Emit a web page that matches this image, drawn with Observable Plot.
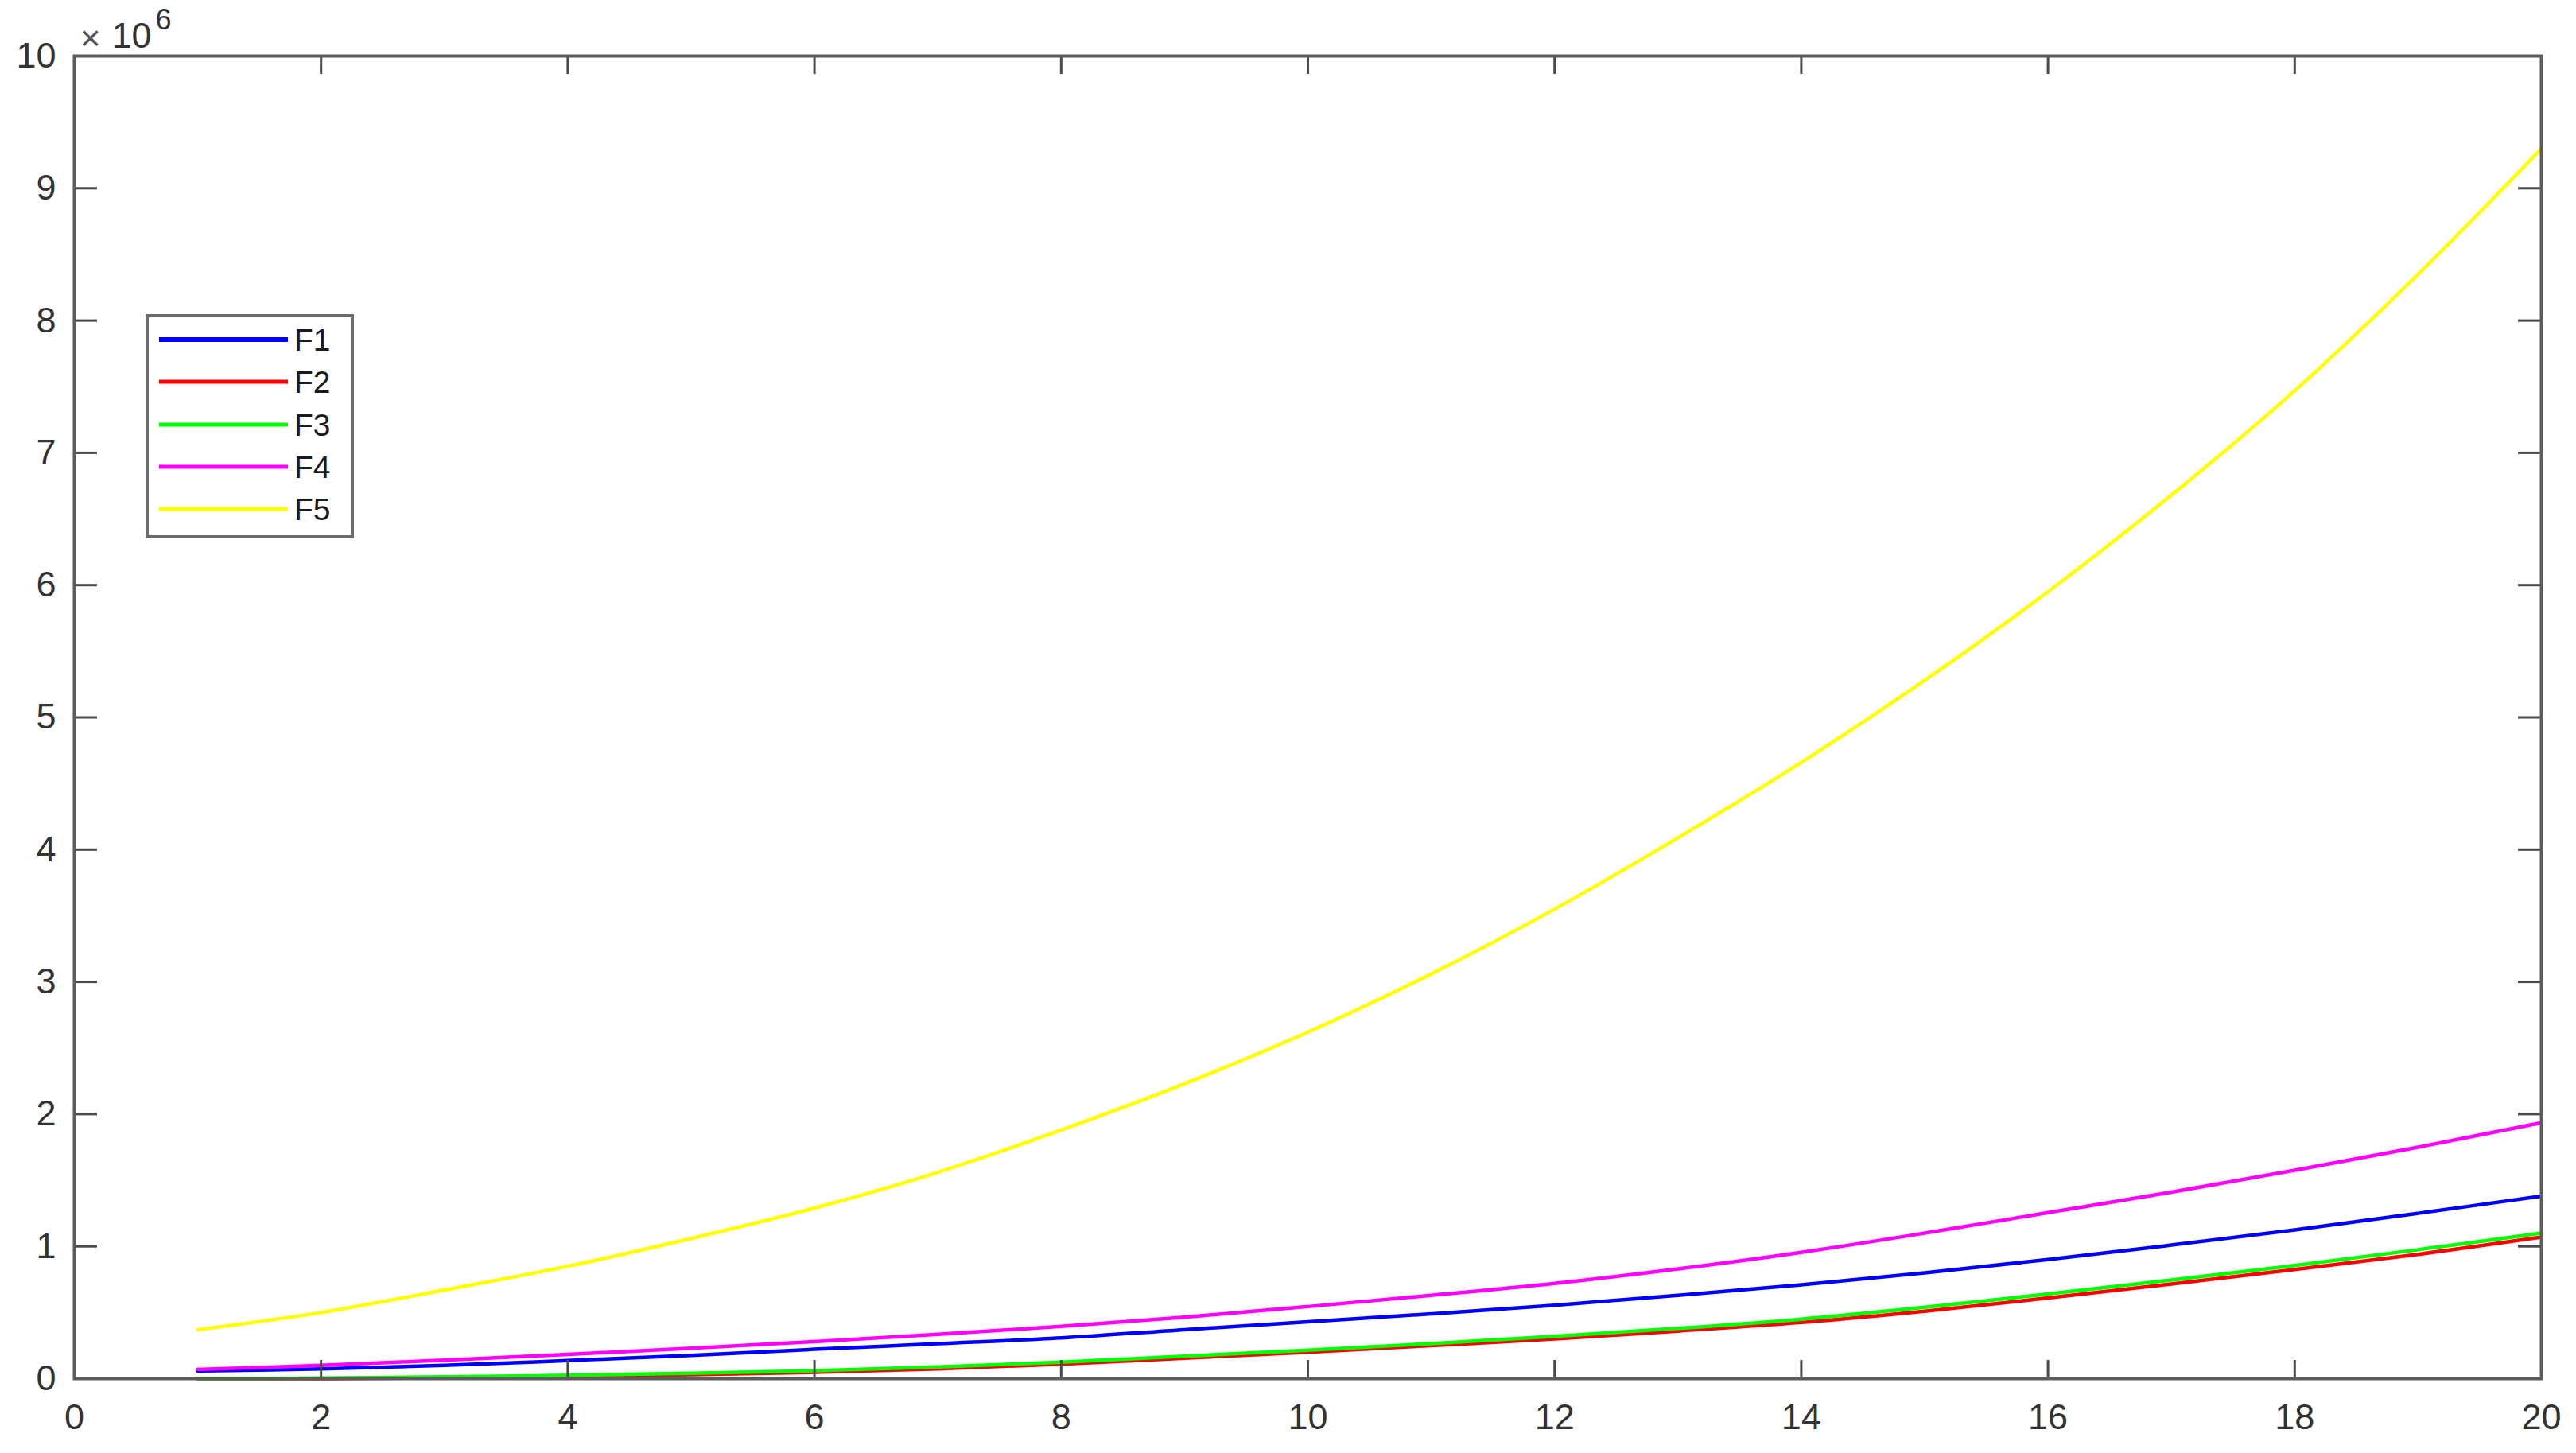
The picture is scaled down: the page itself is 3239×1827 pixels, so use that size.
<!DOCTYPE html>
<html><head><meta charset="utf-8">
<script src="https://cdn.jsdelivr.net/npm/d3@7"></script>
<script src="https://cdn.jsdelivr.net/npm/@observablehq/plot@0.6"></script>
<style>
html,body{margin:0;padding:0;background:#fff;}
#wrap{position:relative;width:3239px;height:1827px;font-family:"Liberation Sans",Arial,sans-serif;}
#legend{position:absolute;left:183px;top:395px;width:262px;height:282px;box-sizing:border-box;border:4px solid #6b6b6b;background:#fff;}
.row{position:absolute;left:0;width:100%;height:0;}
.swatch{position:absolute;left:13px;width:162px;height:5px;transform:translateY(-50%);}
.lab{position:absolute;left:183px;font-size:39px;line-height:1;transform:translateY(-50%);color:#1a1a1a;white-space:nowrap;}
</style></head>
<body><div id="wrap"><div id="chart"></div><div id="legend"></div></div>
<script>
// x positions of samples
const xValues = [1,2,3,4,5,6,7,8,9,10,11,12,13,14,15,16,17,18,19,20];
// series values (units of 10^6)
const F1 = [0.058,0.074,0.10,0.137,0.176,0.222,0.264,0.308,0.37,0.43,0.49,0.555,0.63,0.71,0.80,0.90,1.01,1.125,1.25,1.38];
const F2 = [0.0,0.0,0.006,0.016,0.03,0.048,0.074,0.11,0.155,0.20,0.25,0.30,0.36,0.425,0.51,0.61,0.715,0.825,0.94,1.07];
const F3 = [0.0,0.004,0.013,0.025,0.04,0.06,0.088,0.125,0.17,0.215,0.265,0.32,0.38,0.45,0.54,0.64,0.745,0.855,0.975,1.10];
const F4 = [0.07,0.10,0.14,0.183,0.23,0.28,0.335,0.395,0.465,0.545,0.63,0.72,0.83,0.955,1.10,1.255,1.41,1.575,1.75,1.935];
const F5 = [0.37,0.50,0.67,0.85,1.06,1.29,1.56,1.88,2.23,2.62,3.06,3.55,4.09,4.66,5.28,5.95,6.68,7.47,8.35,9.30];
const seriesNames = ["F1","F2","F3","F4","F5"];
const seriesColors = ["#0000ff","#ff0000","#00ff00","#ff00ff","#ffff00"];
const xTicks = [0,2,4,6,8,10,12,14,16,18,20];
const yTicks = [0,1,2,3,4,5,6,7,8,9,10];
const exponentText = ["×", "10", "6"];

const seriesValues = [F1,F2,F3,F4,F5];
const rows = [];
seriesNames.forEach((name, i) => {
  seriesValues[i].forEach((v, j) => rows.push({series: name, x: xValues[j], y: v}));
});

const W = 3239, H = 1827;
const mL = 93, mT = 70, mR = 44, mB = 94;
const innerW = W - mL - mR;
const innerH = H - mT - mB;
const axisColor = "#4a4a4a";
const font = '"Liberation Sans", Arial, sans-serif';

const chart = Plot.plot({
  width: W, height: H,
  marginLeft: mL, marginTop: mT, marginRight: mR, marginBottom: mB,
  style: {fontFamily: font, color: "#333", background: "#fff", overflow: "visible"},
  x: {domain: [0, 20]},
  y: {domain: [0, 10]},
  color: {domain: seriesNames, range: seriesColors},
  marks: [
    Plot.line(rows, {x: "x", y: "y", z: "series", stroke: "series", strokeWidth: 4.5, curve: "catmull-rom"}),
    Plot.tickX(xTicks, {x: d => d, insetTop: innerH - 23, stroke: axisColor, strokeWidth: 3}),
    Plot.tickX(xTicks, {x: d => d, insetBottom: innerH - 23, stroke: axisColor, strokeWidth: 3}),
    Plot.tickY(yTicks, {y: d => d, insetRight: innerW - 29, stroke: axisColor, strokeWidth: 3}),
    Plot.tickY(yTicks, {y: d => d, insetLeft: innerW - 29, stroke: axisColor, strokeWidth: 3}),
    Plot.frame({stroke: "#5c5c5c", strokeWidth: 4}),
    Plot.axisX({ticks: xTicks, anchor: "bottom", tickSize: 0, tickPadding: 32, fontSize: 45, label: null, fill: "#333"}),
    Plot.axisY({ticks: yTicks, anchor: "left", tickSize: 0, tickPadding: 23, fontSize: 45, label: null, fill: "#333"}),
    Plot.text([exponentText[0]], {frameAnchor: "top-left", text: d => d, dx: 7, dy: -22, fontSize: 45, textAnchor: "start", lineAnchor: "middle", fill: "#555"}),
    Plot.text([exponentText[1]], {frameAnchor: "top-left", text: d => d, dx: 47, dy: -25, fontSize: 45, textAnchor: "start", lineAnchor: "middle", fill: "#333"}),
    Plot.text([exponentText[2]], {frameAnchor: "top-left", text: d => d, dx: 102, dy: -45, fontSize: 36, textAnchor: "start", lineAnchor: "middle", fill: "#333"})
  ]
});
document.getElementById("chart").appendChild(chart);

// legend
const legend = document.getElementById("legend");
seriesNames.forEach((name, i) => {
  const row = document.createElement("div");
  row.className = "row";
  row.style.top = (28 + 53.3 * i) + "px";
  const sw = document.createElement("div");
  sw.className = "swatch";
  sw.style.background = seriesColors[i];
  sw.style.height = (i === 0 ? 6 : 5) + "px";
  const lab = document.createElement("div");
  lab.className = "lab";
  lab.textContent = name;
  row.appendChild(sw);
  row.appendChild(lab);
  legend.appendChild(row);
});
</script>
</body></html>
